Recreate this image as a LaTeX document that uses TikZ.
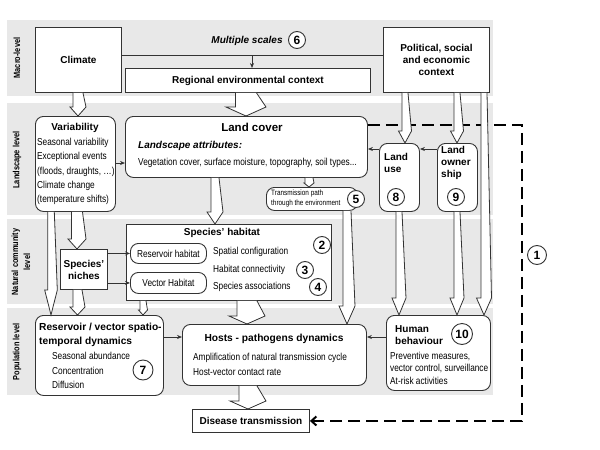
\documentclass[tikz,border=0pt]{standalone}
\usepackage{fontspec}
\setmainfont{Liberation Sans}
\newfontfamily\narrowfont[FakeStretch=0.82]{Liberation Sans}
\usetikzlibrary{arrows.meta,calc}
\definecolor{bandgray}{HTML}{E8E8E8}
\definecolor{linegray}{HTML}{333333}
\tikzset{
  band/.style={fill=bandgray,draw=none},
  bandlabel/.style={rotate=90,align=center,font=\narrowfont\bfseries\fontsize{9}{12}\selectfont},
  frame/.style={draw=linegray,line width=0.9pt,fill=white,anchor=north west,inner sep=0pt},
  rframe/.style={frame,rounded corners=8pt},
  title/.style={align=center,font=\bfseries\fontsize{10}{12}\selectfont},
  bold/.style={anchor=west,inner sep=0pt,align=left,font=\bfseries\fontsize{10.2}{14}\selectfont},
  body/.style={anchor=west,inner sep=0pt,font=\narrowfont\fontsize{10.1}{12}\selectfont},
  numcirc/.style={circle,draw=linegray,line width=0.9pt,fill=white,inner sep=0pt,minimum size=17pt,
    font=\bfseries\fontsize{12}{12}\selectfont},
  link/.style={draw=linegray,line width=0.7pt,-{Stealth[length=5pt,width=4pt]}},
  feedback/.style={draw=black,line width=2pt,dash pattern=on 12pt off 6pt,-{Straight Barb[length=5pt,width=9pt]}},
  hollow/.style={draw=linegray,line width=0.8pt,fill=white}
}
\newcommand\holarrow[6]{%
  \path[hollow] let \p1=(#2 -| #1,0), \p2=(#3 -| #1,0) in
    (\x1-#4pt,\y1) -- (\x1-#4pt,\y2+#6pt) -- (\x1-#5pt,\y2+#6pt) -- (\x1,\y2)
    -- (\x1+#5pt,\y2+#6pt) -- (\x1+#4pt,\y1);}
\begin{document}
\begin{tikzpicture}[x=1pt,y=-1pt]
  \useasboundingbox (0,0) rectangle (600,450);
  \fill[band] (7,20) rectangle (493,96);
  \fill[band] (7,103) rectangle (493,215);
  \fill[band] (7,219) rectangle (493,304);
  \fill[band] (7,308) rectangle (493,395);
  \node[bandlabel] (lmacro) at (17,58) {Macro-level};
  \node[bandlabel] (llandscape) at (17,160) {Landscape level};
  \node[bandlabel] (lcommunity) at (21,262) {Natural community\\level};
  \node[bandlabel] (lpopulation) at (17,352) {Population level};

  \node[frame,minimum width=86,minimum height=65,title] (climate) at (35,27) {Climate};
  \node[frame,minimum width=245,minimum height=24,title] (regional) at (125,68) {Regional environmental context};
  \node[frame,minimum width=106,minimum height=65,title] (political) at (383,27) {Political, social\\and economic\\context};
  \node[title,font=\bfseries\itshape\fontsize{10}{12}\selectfont] (scales) at (247,41) {Multiple scales};

  \node[rframe,minimum width=80,minimum height=95] (variab) at (35,116) {};
  \node[title] (variabt) at (75,128) {Variability};
  \foreach \t [count=\i] in {Seasonal variability,Exceptional events,{(floods, draughts, \dots)},Climate change,(temperature shifts)}
    \node[body] (variab-\i) at (37,128.5+14.3*\i) {\t};

  \node[rframe,minimum width=242,minimum height=61] (landcover) at (125,116) {};
  \node[font=\bfseries\fontsize{11.5}{13}\selectfont] (landcovert) at (252,127) {Land cover};
  \node[body,font=\bfseries\itshape\fontsize{10}{12}\selectfont] (attrib) at (138,146) {Landscape attributes:};
  \node[body] (veget) at (138,163) {Vegetation cover, surface moisture, topography, soil types...};

  \node[rframe,minimum width=40,minimum height=68] (landuse) at (379,143) {};
  \node[bold,font=\bfseries\fontsize{10}{12}\selectfont] (landuset) at (384,163) {Land\\use};
  \node[rframe,minimum width=40,minimum height=68] (landown) at (437,143) {};
  \node[bold,font=\bfseries\fontsize{10}{12}\selectfont] (landownt) at (441,163) {Land\\owner\\ship};

  \node[rframe,minimum width=91,minimum height=23] (transm) at (266,187) {};
  \node[body,align=left,font=\narrowfont\fontsize{7.8}{10}\selectfont] (transmt) at (271,198) {Transmission path\\through the environment};

  \node[frame,minimum width=205,minimum height=76] (habitat) at (126,224) {};
  \node[title] (habitatt) at (222,233) {Species' habitat};
  \node[rframe,minimum width=76,minimum height=20,body,anchor=north west] (reshab) at (130,243) {Reservoir habitat};
  \node[rframe,minimum width=76,minimum height=21,body,anchor=north west] (vechab) at (130,272) {Vector Habitat};
  \node[body] (spatial) at (213,252) {Spatial configuration};
  \node[body] (connect) at (213,270) {Habitat connectivity};
  \node[body] (assoc) at (213,287) {Species associations};

  \node[frame,minimum width=47,minimum height=40,title] (niches) at (60,249) {Species'\\niches};

  \node[rframe,minimum width=128,minimum height=80] (reserv) at (35,315) {};
  \node[bold] (reservt) at (39,335) {Reservoir / vector spatio-\\temporal dynamics};
  \node[body] (abund) at (52,356) {Seasonal abundance};
  \node[body] (concent) at (52,371) {Concentration};
  \node[body] (diffus) at (52,385) {Diffusion};

  \node[rframe,minimum width=184,minimum height=61] (hosts) at (182,324) {};
  \node[title,font=\bfseries\fontsize{10.2}{12}\selectfont] (hostst) at (274,339) {Hosts - pathogens dynamics};
  \node[body] (amplif) at (193,358) {Amplification of natural transmission cycle};
  \node[body] (contact) at (193,372) {Host-vector contact rate};

  \node[rframe,minimum width=104,minimum height=75] (human) at (386,315) {};
  \node[bold,font=\bfseries\fontsize{10}{12}\selectfont] (humant) at (395,335) {Human\\behaviour};
  \node[body] (prevent) at (390,356) {Preventive measures,};
  \node[body] (control) at (390,368) {vector control, surveillance};
  \node[body] (risk) at (390,381) {At-risk activities};

  \node[frame,minimum width=117,minimum height=23,title] (disease) at (192,409) {Disease transmission};

  \coordinate (split) at (252,55);
  \coordinate (corner) at (522,125);
  \draw[linegray,line width=0.8pt] (climate.east |- split) -- (political.west |- split);
  \draw[link] (split) -- (split |- regional.north);
  \draw[link] (variab.east |- 0,163) -- (landcover.west |- 0,163);
  \draw[link] (landuse.west |- 0,149) -- (landcover.east |- 0,149);
  \draw[link] (landown.west |- 0,149) -- (landuse.east |- 0,149);
  \draw[link] (niches.east |- reshab.west) -- (reshab.west);
  \draw[link] (niches.east |- vechab.west) -- (vechab.west);
  \draw[link] (reserv.east |- 0,337) -- (hosts.west |- 0,337);
  \draw[link] (human.west |- 0,337) -- (hosts.east |- 0,337);
  \draw[feedback] (landcover.east |- corner) -- (corner) |- (disease.east);

  \holarrow{78}{climate.south}{variab.north}{5}{8}{9}
  \holarrow{246}{regional.south}{landcover.north}{10.5}{20}{9}
  \holarrow{405}{political.south}{landuse.north}{3}{6.5}{12}
  \holarrow{457}{political.south}{landown.north}{3}{6.5}{12}
  \holarrow{484}{political.south}{human.north}{3}{7.5}{17}
  \holarrow{215}{landcover.south}{habitat.north}{4}{8}{12}
  \holarrow{309}{landcover.south}{transm.north}{4}{5}{4}
  \holarrow{347}{transm.south}{hosts.north}{4}{8}{18}
  \holarrow{77}{variab.south}{niches.north}{5.5}{9}{10}
  \holarrow{51}{variab.south}{reserv.north}{3.3}{6.3}{25}
  \holarrow{77.5}{niches.south}{reserv.north}{4.5}{7.5}{8}
  \holarrow{143}{habitat.south}{reserv.north}{3}{4.5}{5}
  \holarrow{247}{habitat.south}{hosts.north}{10}{18}{8}
  \holarrow{399}{landuse.south}{human.north}{3}{7}{17}
  \holarrow{457}{landown.south}{human.north}{3}{7}{17}
  \holarrow{248}{hosts.south}{disease.north}{9}{18}{8}

  \node[numcirc] (n6) at (297,40) {6};
  \node[numcirc] (n8) at (396,197) {8};
  \node[numcirc] (n9) at (456,197) {9};
  \node[numcirc] (n5) at (356,199) {5};
  \node[numcirc] (n2) at (322,245) {2};
  \node[numcirc] (n3) at (305,270) {3};
  \node[numcirc] (n4) at (318,287) {4};
  \node[numcirc,minimum size=20pt] (n7) at (143,370) {7};
  \node[numcirc,minimum size=21pt] (n10) at (462,334) {10};
  \node[numcirc,minimum size=19pt] (n1) at (537,255) {1};
\end{tikzpicture}
\end{document}
